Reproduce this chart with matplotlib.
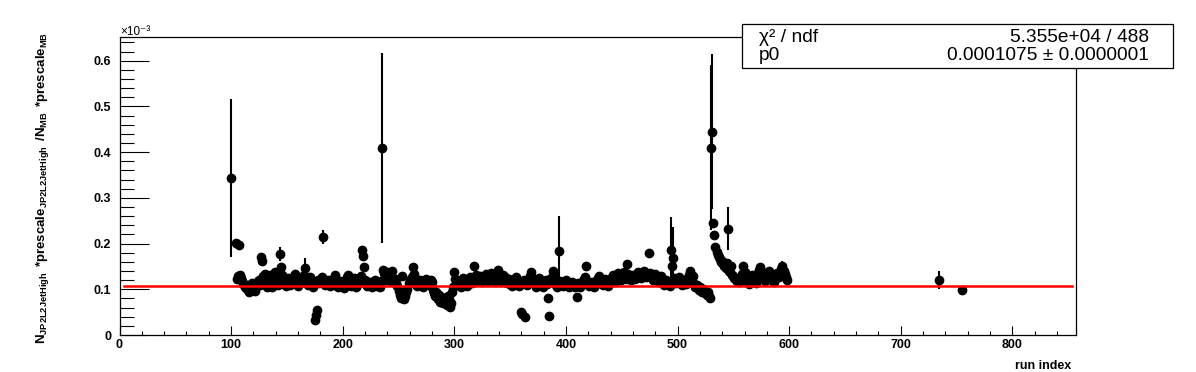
import matplotlib
matplotlib.use("Agg")
import matplotlib.pyplot as plt
import numpy as np
from matplotlib.patches import Rectangle
from matplotlib.ticker import MultipleLocator, FormatStrFormatter

# ratio values in units of 1e-3, one per run index starting at first_run (nan = no entry)
first_run = 100
ratio = [
    0.344, np.nan, np.nan, np.nan, 0.202, 0.123, 0.128, 0.196, 0.131, 0.125,
    0.118, 0.112, 0.106, 0.103, 0.110, 0.098, 0.094, 0.101, 0.108, 0.114,
    0.102, 0.097, 0.105, 0.112, 0.118, 0.121, 0.109, 0.170, 0.162, 0.128,
    0.134, 0.119, 0.106, 0.112, 0.125, 0.132, 0.115, 0.104, 0.110, 0.138,
    0.122, 0.117, 0.109, 0.126, 0.178, 0.148, 0.131, 0.119, 0.112, 0.107,
    0.115, 0.124, 0.118, 0.110, 0.113, 0.121, 0.128, 0.134, 0.119, 0.111,
    0.108, 0.116, 0.122, 0.125, 0.117, 0.131, 0.146, 0.123, 0.114, 0.109,
    0.118, 0.126, 0.112, 0.106, 0.115, 0.032, 0.043, 0.054, 0.121, 0.113,
    0.119, 0.127, 0.214, 0.118, 0.109, 0.112, 0.116, 0.121, 0.110, 0.107,
    0.113, 0.119, 0.124, 0.131, 0.117, 0.108, 0.104, 0.111, 0.118, 0.115,
    0.109, 0.103, 0.112, 0.120, 0.126, 0.132, 0.115, 0.107, 0.111, 0.118,
    0.124, 0.113, 0.106, 0.110, 0.119, 0.125, 0.128, 0.185, 0.172, 0.148,
    0.121, 0.114, 0.108, 0.112, 0.117, 0.111, 0.105, 0.109, 0.116, 0.120,
    0.113, 0.107, 0.111, 0.104, 0.118, 0.410, 0.142, 0.135, 0.128, 0.121,
    0.137, 0.131, 0.126, 0.119, 0.140, 0.124, 0.116, 0.122, 0.113, 0.108,
    0.097, 0.088, 0.082, 0.130, 0.092, 0.078, 0.086, 0.095, 0.101, 0.114,
    0.121, 0.117, 0.126, 0.149, 0.133, 0.119, 0.112, 0.108, 0.115, 0.121,
    0.118, 0.111, 0.106, 0.114, 0.119, 0.123, 0.116, 0.109, 0.113, 0.120,
    0.117, 0.098, 0.091, 0.085, 0.094, 0.079, 0.088, 0.072, 0.083, 0.076,
    0.069, 0.081, 0.074, 0.066, 0.085, 0.078, 0.061, 0.070, 0.093, 0.104,
    0.138, 0.122, 0.115, 0.109, 0.113, 0.119, 0.106, 0.111, 0.124, 0.117,
    0.112, 0.108, 0.114, 0.121, 0.127, 0.119, 0.113, 0.118, 0.152, 0.131,
    0.126, 0.119, 0.124, 0.130, 0.122, 0.116, 0.121, 0.128, 0.133, 0.125,
    0.118, 0.122, 0.129, 0.135, 0.127, 0.120, 0.116, 0.124, 0.131, 0.142,
    0.128, 0.121, 0.117, 0.125, 0.132, 0.126, 0.119, 0.113, 0.118, 0.123,
    0.116, 0.110, 0.107, 0.114, 0.120, 0.126, 0.119, 0.112, 0.108, 0.115,
    0.050, 0.045, 0.121, 0.040, 0.116, 0.109, 0.113, 0.122, 0.128, 0.138,
    0.124, 0.117, 0.111, 0.106, 0.113, 0.119, 0.125, 0.118, 0.110, 0.105,
    0.109, 0.115, 0.121, 0.112, 0.080, 0.042, 0.118, 0.124, 0.140, 0.127,
    0.116, 0.110, 0.106, 0.112, 0.183, 0.119, 0.114, 0.108, 0.111, 0.117,
    0.121, 0.115, 0.109, 0.104, 0.110, 0.116, 0.112, 0.107, 0.105, 0.111,
    0.083, 0.114, 0.109, 0.106, 0.112, 0.118, 0.122, 0.126, 0.150, 0.119,
    0.113, 0.108, 0.112, 0.117, 0.111, 0.106, 0.109, 0.115, 0.120, 0.125,
    0.129, 0.121, 0.114, 0.110, 0.116, 0.123, 0.119, 0.112, 0.108, 0.114,
    0.120, 0.126, 0.131, 0.124, 0.117, 0.122, 0.129, 0.135, 0.127, 0.121,
    0.126, 0.132, 0.138, 0.129, 0.123, 0.156, 0.134, 0.127, 0.121, 0.125,
    0.131, 0.128, 0.122, 0.126, 0.133, 0.137, 0.130, 0.124, 0.128, 0.135,
    0.139, 0.132, 0.126, 0.130, 0.180, 0.136, 0.129, 0.124, 0.121, 0.127,
    0.133, 0.126, 0.120, 0.116, 0.122, 0.128, 0.119, 0.113, 0.109, 0.115,
    0.121, 0.117, 0.111, 0.108, 0.187, 0.150, 0.168, 0.124, 0.118, 0.113,
    0.122, 0.127, 0.120, 0.114, 0.110, 0.116, 0.121, 0.117, 0.111, 0.124,
    0.132, 0.139, 0.125, 0.118, 0.130, 0.112, 0.106, 0.109, 0.103, 0.099,
    0.104, 0.097, 0.093, 0.100, 0.095, 0.091, 0.088, 0.094, 0.086, 0.082,
    0.410, 0.445, 0.244, 0.218, 0.193, 0.182, 0.176, 0.171, 0.166, 0.160,
    0.163, 0.155, 0.150, 0.146, 0.158, 0.233, 0.141, 0.137, 0.152, 0.132,
    0.128, 0.125, 0.121, 0.118, 0.123, 0.116, 0.119, 0.127, 0.134, 0.150,
    0.138, 0.128, 0.121, 0.115, 0.112, 0.118, 0.124, 0.131, 0.126, 0.119,
    0.113, 0.120, 0.135, 0.143, 0.149, 0.138, 0.130, 0.124, 0.118, 0.122,
    0.128, 0.137, 0.141, 0.133, 0.126, 0.120, 0.117, 0.123, 0.129, 0.135,
    0.131, 0.126, 0.138, 0.145, 0.152, 0.140, 0.133, 0.127, 0.121,
]
extra_runs = [734, 755]
extra_ratio = [0.120, 0.098]

# errors: small everywhere except these runs
base_err = 0.004
big_err_runs = [100, 144, 166, 182, 235, 394, 494, 496, 530, 531, 545, 594, 734]
big_err = [0.173, 0.015, 0.022, 0.015, 0.208, 0.078, 0.072, 0.068, 0.18, 0.17, 0.048, 0.010, 0.020]

# constant fit
fit_p0 = 0.1075
fit_range = [4, 853]
chi2_ndf = "5.355e+04 / 488"
p0_text = "0.0001075 \u00b1 0.0000001"

W, H = 1196, 372
plt.rcParams["font.family"] = ["Liberation Sans", "DejaVu Sans"]
plt.rcParams["mathtext.fontset"] = "custom"
plt.rcParams["mathtext.rm"] = "Liberation Sans:bold"
plt.rcParams["mathtext.it"] = "Liberation Sans:bold"
plt.rcParams["mathtext.bf"] = "Liberation Sans:bold"

runs = np.concatenate([first_run + np.arange(len(ratio)), extra_runs])
vals = np.concatenate([np.array(ratio, dtype=float), extra_ratio])
errs = np.full(len(runs), base_err)
for r, e in zip(big_err_runs, big_err):
    errs[runs == r] = e

fig = plt.figure(figsize=(W / 100, H / 100), dpi=100)
ax = fig.add_axes([119.5 / W, 1 - 335 / H, (1076 - 119.5) / W, (335 - 37) / H])

ax.errorbar(runs, vals, yerr=errs, fmt="o", color="black", ms=6, lw=1.5,
            capsize=0, zorder=3)
ax.plot(fit_range, [fit_p0, fit_p0], color="#ff0000", lw=1.8, zorder=4)

ax.set_xlim(0, 857)
ax.set_ylim(0, 0.652)
ax.xaxis.set_major_locator(MultipleLocator(100))
ax.xaxis.set_minor_locator(MultipleLocator(20))
ax.yaxis.set_major_locator(MultipleLocator(0.1))
ax.yaxis.set_minor_locator(MultipleLocator(0.02))
ax.yaxis.set_major_formatter(FormatStrFormatter("%g"))
ax.tick_params(which="both", direction="in", top=False, right=False, width=0.8)
ax.tick_params(axis="x", which="major", length=6.5, pad=3)
ax.tick_params(axis="x", which="minor", length=3.2)
ax.tick_params(axis="y", which="major", length=21, pad=6)
ax.tick_params(axis="y", which="minor", length=10)
for lab in ax.get_xticklabels() + ax.get_yticklabels():
    lab.set_fontweight("bold")
    lab.set_fontsize(9)
for sp in ax.spines.values():
    sp.set_linewidth(0.9)

ax.text(1.0 - 5 / (1076 - 119.5), -0.085, "run index", transform=ax.transAxes,
        ha="right", va="top", fontsize=9, fontweight="bold")

fig.text(120 / W, 1 - 35 / H, "\u00d710\u207b\u00b3", fontsize=8.5, va="baseline",
         ha="left")

fig.text(43 / W, 1 - 188 / H,
         r"N$_{JP2L2JetHigh}\,$ *prescale$_{JP2L2JetHigh}\,$ /N$_{MB}\,$ *prescale$_{MB}$",
         rotation=90, ha="center", va="center", fontsize=9.5, fontweight="bold")

# fit statistics box
box = Rectangle((741.7 / W, 1 - 68.3 / H), (1172.7 - 741.7) / W, (68.3 - 24) / H,
                transform=fig.transFigure, facecolor="white", edgecolor="black",
                lw=0.9, zorder=10)
fig.patches.append(box)
fs = 13.8
fig.text(759 / W, 1 - 41.7 / H, "\u03c7\u00b2 / ndf", fontsize=fs, va="baseline",
         ha="left", zorder=11)
fig.text(1149 / W, 1 - 41.7 / H, chi2_ndf, fontsize=fs, va="baseline",
         ha="right", zorder=11)
fig.text(759 / W, 1 - 60 / H, "p0", fontsize=fs, va="baseline", ha="left", zorder=11)
fig.text(1149 / W, 1 - 60 / H, p0_text, fontsize=fs, va="baseline", ha="right",
         zorder=11)

fig.savefig("out.png", dpi=100)
